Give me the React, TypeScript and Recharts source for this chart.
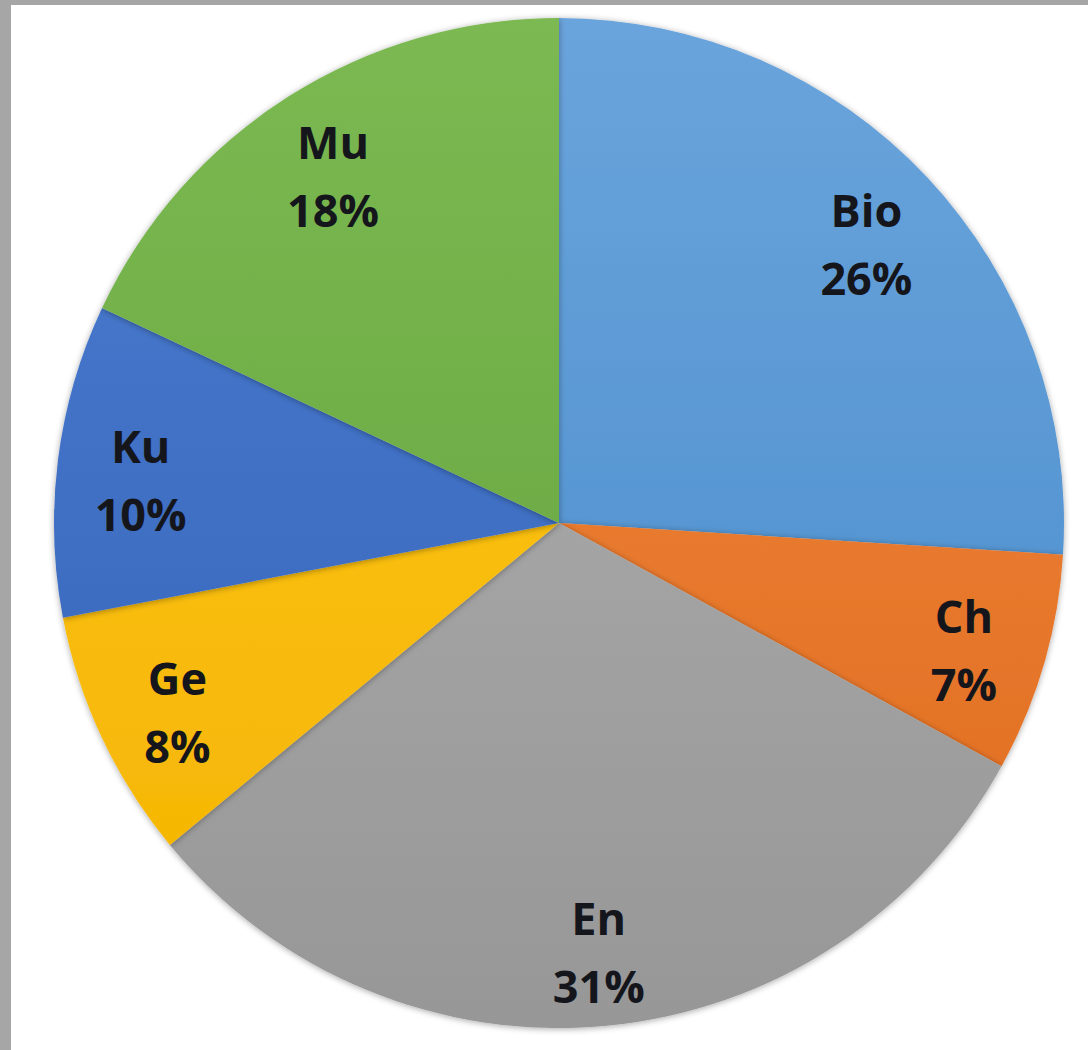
import { PieChart, Pie, Cell } from 'recharts'

const subjects = ['Bio', 'Ch', 'En', 'Ge', 'Ku', 'Mu']
const shares = [26, 7, 31, 8, 10, 18]
const topColors = ['#6aa4dc', '#f08a42', '#b1b1b1', '#ffc91c', '#4b7cd1', '#7cb952']
const bottomColors = ['#4589c9', '#e06a1c', '#979797', '#f4b300', '#3462b6', '#60a03a']

const data = subjects.map((name, i) => ({ name, value: shares[i] }))

const RAD = Math.PI / 180

function SliceLabel({ cx, cy, midAngle, outerRadius, name, value }: any) {
  const r = outerRadius * 0.835
  const x = cx + r * Math.cos(-midAngle * RAD)
  const y = cy + r * Math.sin(-midAngle * RAD) + 9
  const style = { fontFamily: '"Open Sans", sans-serif', fontWeight: 700, fontSize: 45, fill: '#15161c' }
  return (
    <g>
      <text x={x} y={y - 34} textAnchor="middle" dominantBaseline="central" style={style}>
        {name}
      </text>
      <text x={x} y={y + 34} textAnchor="middle" dominantBaseline="central" style={style}>
        {value}%
      </text>
    </g>
  )
}

export default function App() {
  return (
    <div style={{ position: 'fixed', left: 0, top: 0, width: 1088, height: 1050, background: '#a6a6a6' }}>
      <div style={{ position: 'absolute', left: 11, top: 5, right: 0, bottom: 0, background: '#ffffff' }} />
      <div style={{ position: 'absolute', left: 0, top: 0 }}>
        <PieChart width={1088} height={1050} margin={{ top: 0, right: 0, bottom: 0, left: 0 }}>
          <defs>
            {subjects.map((s, i) => (
              <linearGradient key={s} id={`grad-${s}`} gradientUnits="userSpaceOnUse" x1="0" y1="18" x2="0" y2="1028">
                <stop offset="0%" stopColor={topColors[i]} />
                <stop offset="100%" stopColor={bottomColors[i]} />
              </linearGradient>
            ))}
            <filter id="pieShadow" x="-10%" y="-10%" width="120%" height="120%">
              <feDropShadow dx="0" dy="1" stdDeviation="3" floodColor="#000" floodOpacity="0.35" />
            </filter>
          </defs>
          <Pie
            data={data}
            dataKey="value"
            nameKey="name"
            cx={559}
            cy={523}
            outerRadius={505}
            startAngle={90}
            endAngle={-270}
            stroke="none"
            labelLine={false}
            label={SliceLabel}
            isAnimationActive={false}
            style={{ filter: 'url(#pieShadow)' }}
          >
            {data.map((d) => (
              <Cell key={d.name} fill={`url(#grad-${d.name})`} />
            ))}
          </Pie>
        </PieChart>
      </div>
    </div>
  )
}
